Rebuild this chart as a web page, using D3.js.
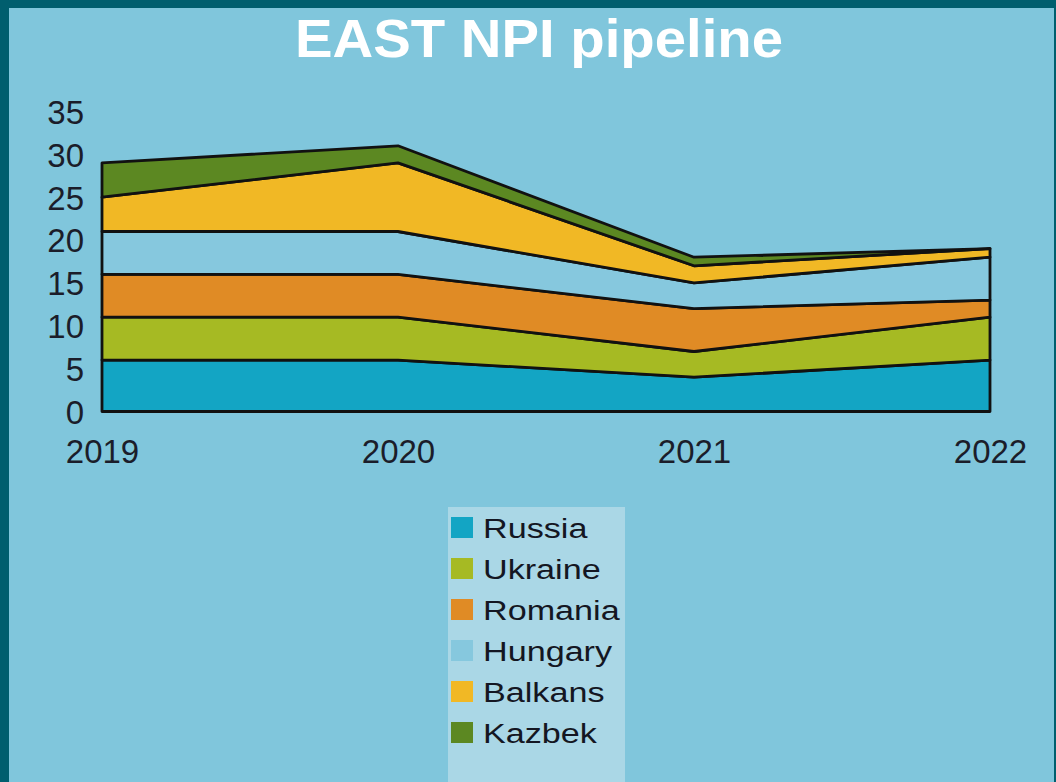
<!DOCTYPE html>
<html>
<head>
<meta charset="utf-8">
<script src="https://cdn.jsdelivr.net/npm/d3@7"></script>
<style>
  html, body { margin: 0; padding: 0; background: #005e6e; }
  svg { display: block; font-family: "Liberation Sans", Arial, sans-serif; }
</style>
</head>
<body>
<svg id="svg"></svg>
<script>
// pipeline values per region (stacked bottom to top)
const years = [2019, 2020, 2021, 2022];
const regions = ['Russia', 'Ukraine', 'Romania', 'Hungary', 'Balkans', 'Kazbek'];
const russia  = [6, 6, 4, 6];
const ukraine = [5, 5, 3, 5];
const romania = [5, 5, 5, 2];
const hungary = [5, 5, 3, 5];
const balkans = [4, 8, 2, 1];
const kazbek  = [4, 2, 1, 0];
const yTicks = [0, 5, 10, 15, 20, 25, 30, 35];
const regionColors = ['#13a5c4', '#a6ba23', '#e08b25', '#86c8de', '#f1b825', '#5c8822'];

const width = 1056, height = 782;

const table = years.map((yr, i) => ({
  year: yr,
  Russia: russia[i], Ukraine: ukraine[i], Romania: romania[i],
  Hungary: hungary[i], Balkans: balkans[i], Kazbek: kazbek[i]
}));

const svg = d3.select('#svg')
  .attr('width', width)
  .attr('height', height);

// frame
svg.append('rect')
  .attr('width', width).attr('height', height)
  .attr('fill', '#005e6e');
svg.append('rect')
  .attr('x', 9).attr('y', 8)
  .attr('width', width - 11).attr('height', height - 8)
  .attr('fill', '#80c6dc');

svg.append('text')
  .attr('x', 539)
  .attr('y', 57)
  .attr('text-anchor', 'middle')
  .attr('fill', '#ffffff')
  .attr('font-size', '54px')
  .attr('font-weight', 'bold')
  .attr('textLength', 488)
  .attr('lengthAdjust', 'spacingAndGlyphs')
  .text('EAST NPI pipeline');

const x = d3.scaleLinear().domain([2019, 2022]).range([102, 990]);
const y = d3.scaleLinear().domain([0, 35]).range([411.5, 111.5]);
const color = d3.scaleOrdinal().domain(regions).range(regionColors);

const series = d3.stack().keys(regions)(table);

const area = d3.area()
  .x(d => x(d.data.year))
  .y0(d => y(d[0]))
  .y1(d => y(d[1]));

svg.append('g')
  .selectAll('path')
  .data(series)
  .enter()
  .append('path')
    .attr('d', area)
    .attr('fill', d => color(d.key))
    .attr('stroke', '#111')
    .attr('stroke-width', 2.8)
    .attr('stroke-linejoin', 'round');

const yAxis = svg.append('g')
  .attr('transform', 'translate(84,0)')
  .call(d3.axisLeft(y).tickValues(yTicks).tickSize(0).tickPadding(0));
yAxis.select('.domain').remove();
yAxis.selectAll('text')
  .attr('font-size', '33px')
  .attr('font-family', 'inherit')
  .attr('fill', '#1b1d2a')
  .attr('dy', '0.36em');

const xAxis = svg.append('g')
  .attr('transform', 'translate(0,463)')
  .call(d3.axisBottom(x).tickValues(years).tickFormat(d3.format('d')).tickSize(0).tickPadding(0));
xAxis.select('.domain').remove();
xAxis.selectAll('text')
  .attr('font-size', '33px')
  .attr('font-family', 'inherit')
  .attr('fill', '#1b1d2a')
  .attr('dy', 0);

// legend
const legend = svg.append('g');
legend.append('rect')
  .attr('x', 448).attr('y', 507)
  .attr('width', 177).attr('height', height - 507)
  .attr('fill', '#aad7e6');

const item = legend.selectAll('g.item')
  .data(regions)
  .enter()
  .append('g')
    .attr('class', 'item')
    .attr('transform', (d, i) => `translate(0,${538 + i * 41})`);
item.append('rect')
  .attr('x', 451).attr('y', -21)
  .attr('width', 22).attr('height', 21)
  .attr('fill', d => color(d));
// labels are a little wider than plain Arial in the original
item.append('text')
  .attr('transform', 'translate(483,0) scale(1.22,1)')
  .attr('font-size', '28px')
  .attr('fill', '#141622')
  .text(d => d);
</script>
</body>
</html>
